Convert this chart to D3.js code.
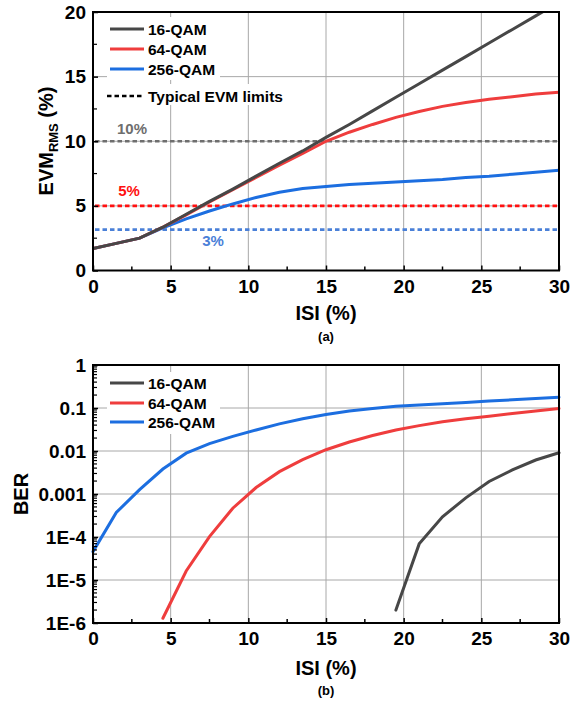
<!DOCTYPE html>
<html><head><meta charset="utf-8">
<script src="https://cdn.jsdelivr.net/npm/d3@7"></script>
<style>body{margin:0;background:#fff}svg{display:block}text{font-family:"Liberation Sans",Arial,sans-serif;font-weight:bold}</style>
</head><body>
<svg id="c" width="571" height="704"></svg>
<script>
const isi = [0,1.5,3,4.5,6,7.5,9,10.5,12,13.5,15,16.5,18,19.5,21,22.5,24,25.5,27,28.5,30];
const evm16  = [1.7,2.1,2.5,3.35,4.35,5.35,6.3,7.3,8.3,9.25,10.3,11.3,12.35,13.4,14.45,15.5,16.55,17.6,18.65,19.7,20.75];
const evm64  = [1.7,2.1,2.5,3.35,4.3,5.3,6.25,7.2,8.15,9.05,10.0,10.7,11.3,11.85,12.3,12.7,13.0,13.25,13.45,13.65,13.8];
const evm256 = [1.7,2.1,2.5,3.3,4.0,4.6,5.15,5.65,6.05,6.35,6.5,6.65,6.75,6.85,6.95,7.05,7.2,7.3,7.45,7.6,7.75];
const evmLimits = [10, 5, 3.16];
const evmLimitLabels = ["10%","5%","3%"];
const ber16x = [19.5,21,22.5,24,25.5,27,28.5,30];
const ber16log = [-5.70,-4.16,-3.53,-3.09,-2.71,-2.44,-2.21,-2.04];
const ber64x = [4.5,6,7.5,9,10.5,12,13.5,15,16.5,18,19.5,21,22.5,24,25.5,27,28.5,30];
const ber64log = [-5.89,-4.79,-3.99,-3.33,-2.85,-2.48,-2.2,-1.97,-1.79,-1.64,-1.51,-1.41,-1.32,-1.25,-1.19,-1.13,-1.07,-1.01];
const ber256x = isi;
const ber256log = [-4.34,-3.43,-2.9,-2.42,-2.05,-1.83,-1.66,-1.51,-1.37,-1.25,-1.15,-1.07,-1.01,-0.96,-0.93,-0.9,-0.87,-0.84,-0.81,-0.78,-0.75];
const seriesNames = ["16-QAM","64-QAM","256-QAM"];
const xTicks = [0,5,10,15,20,25,30];
const evmTicks = [0,5,10,15,20];
const berTicks = [1,0.1,0.01,0.001,1e-4,1e-5,1e-6];
const berTickLabels = ["1","0.1","0.01","0.001","1E-4","1E-5","1E-6"];

const colors = ["#474747","#ef3d3d","#1c6ee0"];
const limitColors = ["#6e6e6e","#ff1010","#4a80d8"];
const svg = d3.select("#c");
const L = 93, R = 559;

function drawFrame(g, x, y, top, bottom, yTickVals) {
  g.append("g").selectAll("line").data(xTicks.slice(1,-1)).join("line")
    .attr("x1", d=>x(d)).attr("x2", d=>x(d)).attr("y1", top).attr("y2", bottom)
    .attr("stroke","#a8a8a8").attr("stroke-width",1);
  g.append("g").selectAll("line").data(yTickVals.slice(1,-1)).join("line")
    .attr("x1", L).attr("x2", R).attr("y1", d=>y(d)).attr("y2", d=>y(d))
    .attr("stroke","#a8a8a8").attr("stroke-width",1);
}
function drawAxes(g, x, y, top, bottom, yTickVals, yLabels, yMinor) {
  const ax = g.append("g").attr("transform",`translate(0,${bottom})`)
    .call(d3.axisBottom(x).tickValues(xTicks).tickSize(-5).tickPadding(9).tickFormat(d3.format("d")));
  ax.select(".domain").remove();
  ax.selectAll("text").attr("font-size",19).attr("fill","#000").attr("font-family","Liberation Sans, Arial").attr("font-weight","bold");
  ax.selectAll("line").attr("stroke","#000").attr("stroke-width",1.5);
  g.append("g").selectAll("line").data(d3.range(2.5,30,5)).join("line")
    .attr("x1",d=>x(d)).attr("x2",d=>x(d)).attr("y1",bottom).attr("y2",bottom-4).attr("stroke","#000").attr("stroke-width",1.5);
  const ay = g.append("g").attr("transform",`translate(${L},0)`)
    .call(d3.axisLeft(y).tickValues(yTickVals).tickSize(-5).tickPadding(7).tickFormat((d,i)=>yLabels[i]));
  ay.select(".domain").remove();
  ay.selectAll("text").attr("font-size",19).attr("fill","#000").attr("font-family","Liberation Sans, Arial").attr("font-weight","bold");
  ay.selectAll("line").attr("stroke","#000").attr("stroke-width",1.5);
  g.append("g").selectAll("line").data(yMinor).join("line")
    .attr("x1",L).attr("x2",L+4).attr("y1",d=>y(d)).attr("y2",d=>y(d)).attr("stroke","#000").attr("stroke-width",1.2);
  g.append("rect").attr("x",L).attr("y",top).attr("width",R-L).attr("height",bottom-top)
    .attr("fill","none").attr("stroke","#000").attr("stroke-width",2);
}

// ---------- Chart (a)
{
  const top = 12, bottom = 270.5;
  const x = d3.scaleLinear().domain([0,30]).range([L,R]);
  const y = d3.scaleLinear().domain([0,20]).range([bottom,top]);
  const g = svg.append("g");
  drawFrame(g,x,y,top,bottom,evmTicks);
  g.append("clipPath").attr("id","clipA").append("rect").attr("x",L).attr("y",top).attr("width",R-L).attr("height",bottom-top);
  evmLimits.forEach((v,i)=>{
    g.append("line").attr("x1",L+2).attr("x2",R-2).attr("y1",y(v)).attr("y2",y(v))
      .attr("stroke",limitColors[i]).attr("stroke-width",2.6).attr("stroke-dasharray","4.5,3");
  });
  const labelPos = [[132,134],[129,196],[213,246]];
  evmLimits.forEach((v,i)=>{
    g.append("text").attr("x",labelPos[i][0]).attr("y",labelPos[i][1]).attr("text-anchor","middle")
      .attr("font-size",15).attr("fill",limitColors[i]).text(evmLimitLabels[i]);
  });
  const line = d3.line().x(d=>x(d[0])).y(d=>y(d[1]));
  [evm256, evm64, evm16].forEach((arr,k)=>{
    const idx = 2-k;
    g.append("path").attr("clip-path","url(#clipA)").attr("d", line(isi.map((v,i)=>[v,arr[i]])))
      .attr("fill","none").attr("stroke",colors[idx]).attr("stroke-width",3);
  });
  drawAxes(g,x,y,top,bottom,evmTicks,evmTicks.map(String),d3.range(2.5,20,5));
  // legend boxes (white background)
  g.append("rect").attr("x",107).attr("y",17).attr("width",113).attr("height",63).attr("fill","#fff");
  g.append("rect").attr("x",104).attr("y",84).attr("width",180).attr("height",21).attr("fill","#fff");
  const ly = [29,49,69];
  seriesNames.forEach((n,i)=>{
    g.append("line").attr("x1",110).attr("x2",144).attr("y1",ly[i]).attr("y2",ly[i]).attr("stroke",colors[i]).attr("stroke-width",3);
    g.append("text").attr("x",148).attr("y",ly[i]+5.5).attr("font-size",15.5).attr("fill","#000").text(n);
  });
  g.append("line").attr("x1",107).attr("x2",142).attr("y1",96).attr("y2",96).attr("stroke","#000").attr("stroke-width",2.5).attr("stroke-dasharray","4.5,3");
  g.append("text").attr("x",148).attr("y",101.5).attr("font-size",15.5).attr("fill","#000").text("Typical EVM limits");
  g.append("text").attr("x",326).attr("y",320).attr("text-anchor","middle").attr("font-size",20).text("ISI (%)");
  g.append("text").attr("x",326).attr("y",341).attr("text-anchor","middle").attr("font-size",13).text("(a)");
  const yt = g.append("text").attr("transform","translate(53,141) rotate(-90)").attr("text-anchor","middle").attr("font-size",20);
  yt.append("tspan").text("EVM");
  yt.append("tspan").attr("font-size",13).attr("dy",5).text("RMS");
  yt.append("tspan").attr("dy",-5).text(" (%)");
}

// ---------- Chart (b)
{
  const top = 365, bottom = 623;
  const x = d3.scaleLinear().domain([0,30]).range([L,R]);
  const y = d3.scaleLog().domain([1e-6,1]).range([bottom,top]);
  const g = svg.append("g");
  drawFrame(g,x,y,top,bottom,berTicks);
  const line = d3.line().x(d=>x(d[0])).y(d=>y(Math.pow(10,d[1])));
  const sets = [[ber16x,ber16log],[ber64x,ber64log],[ber256x,ber256log]];
  [2,1,0].forEach(i=>{
    const [xs,ls] = sets[i];
    g.append("path").attr("d", line(xs.map((v,j)=>[v,ls[j]])))
      .attr("fill","none").attr("stroke",colors[i]).attr("stroke-width",3).attr("stroke-linecap","round");
  });
  const minor = [];
  for (let e=-6; e<0; e++) for (let m=2; m<10; m++) minor.push(m*Math.pow(10,e));
  drawAxes(g,x,y,top,bottom,berTicks,berTickLabels,minor);
  g.append("rect").attr("x",107).attr("y",372).attr("width",113).attr("height",62).attr("fill","#fff");
  const ly = [383,403,422];
  seriesNames.forEach((n,i)=>{
    g.append("line").attr("x1",110).attr("x2",144).attr("y1",ly[i]).attr("y2",ly[i]).attr("stroke",colors[i]).attr("stroke-width",3);
    g.append("text").attr("x",148).attr("y",ly[i]+5.5).attr("font-size",15.5).attr("fill","#000").text(n);
  });
  g.append("text").attr("x",326).attr("y",675).attr("text-anchor","middle").attr("font-size",20).text("ISI (%)");
  g.append("text").attr("x",326).attr("y",695).attr("text-anchor","middle").attr("font-size",13).text("(b)");
  g.append("text").attr("transform","translate(28,494) rotate(-90)").attr("text-anchor","middle").attr("font-size",20).text("BER");
}
</script>
</body></html>
